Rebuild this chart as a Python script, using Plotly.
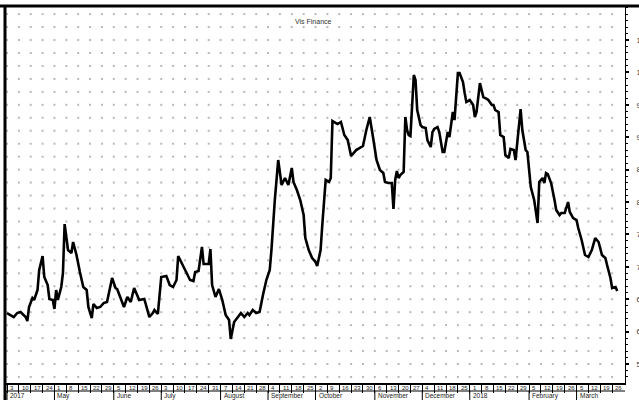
import plotly.graph_objects as go
import pandas as pd

# ---------------- data ----------------
dates = [
    "2017-04-03", "2017-04-07", "2017-04-09", "2017-04-11", "2017-04-14", "2017-04-15", "2017-04-16", "2017-04-18",
    "2017-04-19", "2017-04-21", "2017-04-22", "2017-04-24", "2017-04-25", "2017-04-27", "2017-04-28", "2017-04-30",
    "2017-05-01", "2017-05-02", "2017-05-03", "2017-05-05", "2017-05-06", "2017-05-07", "2017-05-09", "2017-05-11",
    "2017-05-12", "2017-05-14", "2017-05-16", "2017-05-18", "2017-05-20", "2017-05-21", "2017-05-23", "2017-05-24",
    "2017-05-26", "2017-05-28", "2017-05-30", "2017-06-01", "2017-06-04", "2017-06-06", "2017-06-07", "2017-06-11",
    "2017-06-13", "2017-06-15", "2017-06-17", "2017-06-19", "2017-06-20", "2017-06-23", "2017-06-26", "2017-06-28",
    "2017-06-29", "2017-07-01", "2017-07-03", "2017-07-06", "2017-07-08", "2017-07-10", "2017-07-12", "2017-07-13",
    "2017-07-16", "2017-07-18", "2017-07-20", "2017-07-22", "2017-07-23", "2017-07-25", "2017-07-27", "2017-07-28",
    "2017-07-31", "2017-08-01", "2017-08-02", "2017-08-04", "2017-08-06", "2017-08-08", "2017-08-10", "2017-08-12",
    "2017-08-13", "2017-08-15", "2017-08-17", "2017-08-19", "2017-08-21", "2017-08-23", "2017-08-24", "2017-08-26",
    "2017-08-28", "2017-08-30", "2017-09-01", "2017-09-03", "2017-09-05", "2017-09-06", "2017-09-08", "2017-09-10",
    "2017-09-12", "2017-09-14", "2017-09-16", "2017-09-18", "2017-09-19", "2017-09-21", "2017-09-23", "2017-09-25",
    "2017-09-26", "2017-09-28", "2017-09-30", "2017-10-02", "2017-10-03", "2017-10-05", "2017-10-06", "2017-10-08",
    "2017-10-10", "2017-10-11", "2017-10-12", "2017-10-15", "2017-10-17", "2017-10-19", "2017-10-21", "2017-10-23",
    "2017-10-26", "2017-10-28", "2017-10-30", "2017-11-01", "2017-11-03", "2017-11-05", "2017-11-07", "2017-11-09",
    "2017-11-11", "2017-11-12", "2017-11-14", "2017-11-16", "2017-11-17", "2017-11-18", "2017-11-19", "2017-11-20",
    "2017-11-21", "2017-11-23", "2017-11-24", "2017-11-25", "2017-11-26", "2017-11-27", "2017-11-29", "2017-11-30",
    "2017-12-01", "2017-12-03", "2017-12-04", "2017-12-06", "2017-12-07", "2017-12-09", "2017-12-10", "2017-12-11",
    "2017-12-13", "2017-12-14", "2017-12-16", "2017-12-17", "2017-12-19", "2017-12-20", "2017-12-22", "2017-12-23",
    "2017-12-25", "2017-12-26", "2017-12-28", "2017-12-29", "2017-12-30", "2018-01-01", "2018-01-03", "2018-01-04",
    "2018-01-05", "2018-01-07", "2018-01-09", "2018-01-11", "2018-01-12", "2018-01-14", "2018-01-15", "2018-01-16",
    "2018-01-18", "2018-01-19", "2018-01-21", "2018-01-22", "2018-01-24", "2018-01-25", "2018-01-27", "2018-01-28",
    "2018-01-31", "2018-02-01", "2018-02-03", "2018-02-04", "2018-02-06", "2018-02-08", "2018-02-10", "2018-02-11",
    "2018-02-13", "2018-02-14", "2018-02-15", "2018-02-16", "2018-02-18", "2018-02-20", "2018-02-21", "2018-02-23",
    "2018-02-24", "2018-02-26", "2018-02-28", "2018-03-01", "2018-03-03", "2018-03-05", "2018-03-06", "2018-03-08",
    "2018-03-10", "2018-03-12", "2018-03-14", "2018-03-16", "2018-03-18", "2018-03-20", "2018-03-22", "2018-03-23",
    "2018-03-25", "2018-03-26", "2018-03-28", "2018-03-29",
]

values = [
    62.87, 62.25, 62.87, 63.02, 62.25, 61.64, 63.80, 65.19,
    64.88, 66.42, 69.51, 71.67, 68.43, 67.19, 65.03, 64.88,
    63.49, 66.42, 64.88, 66.88, 69.04, 76.60, 72.59, 72.13,
    73.83, 71.82, 69.20, 66.88, 66.42, 63.80, 62.10, 64.26,
    63.64, 63.80, 64.41, 64.57, 68.27, 66.73, 66.57, 63.80,
    65.34, 64.57, 66.73, 65.65, 64.88, 65.03, 62.25, 62.87,
    63.33, 62.72, 68.43, 68.58, 67.19, 66.88, 67.96, 71.67,
    69.97, 68.89, 67.96, 67.81, 69.20, 69.35, 73.06, 70.43,
    70.43, 72.75, 67.19, 65.34, 66.57, 64.88, 62.56, 61.79,
    58.86, 61.48, 62.10, 62.87, 62.25, 62.87, 62.56, 63.33,
    62.87, 63.02, 65.65, 67.96, 69.51, 72.59, 80.31, 86.48,
    82.62, 83.70, 82.62, 85.25, 83.09, 81.85, 80.31, 77.99,
    74.44, 72.59, 71.36, 70.74, 70.12, 72.59, 76.45, 83.40,
    83.09, 83.70, 92.50, 92.04, 92.35, 90.34, 89.57, 87.10,
    88.02, 88.33, 88.64, 91.11, 93.12, 89.88, 86.48, 84.94,
    84.48, 83.09, 82.93, 82.93, 78.92, 83.40, 84.78, 83.70,
    84.17, 84.63, 93.12, 91.11, 90.34, 90.19, 99.60, 98.83,
    94.20, 91.88, 91.57, 91.42, 89.57, 88.49, 90.80, 91.27,
    91.57, 90.80, 87.72, 87.72, 90.80, 90.03, 93.89, 92.65,
    99.91, 99.91, 98.52, 96.82, 95.43, 95.74, 94.97, 93.12,
    93.89, 98.36, 96.20, 95.90, 95.74, 94.97, 94.97, 94.20,
    93.89, 90.34, 90.03, 87.25, 86.79, 88.18, 88.02, 86.48,
    94.35, 91.11, 88.02, 87.72, 82.31, 80.31, 76.76, 83.09,
    83.70, 82.93, 84.48, 84.32, 82.93, 80.31, 78.77, 77.99,
    78.30, 78.30, 80.00, 78.46, 77.53, 77.22, 75.99, 74.14,
    71.82, 71.51, 72.59, 74.44, 73.83, 71.82, 71.36, 70.28,
    68.27, 66.73, 66.88, 66.27,
]

week_starts = pd.date_range("2017-04-03", "2018-03-26", freq="7D")
day_labels = ["3", "10", "17", "24", "1", "8", "15", "22", "29", "5", "12", "19", "26",
              "3", "10", "17", "24", "31", "7", "14", "21", "28", "4", "11", "18", "25",
              "2", "9", "16", "23", "30", "6", "13", "20", "27", "4", "11", "18", "25",
              "1", "8", "15", "22", "29", "5", "12", "19", "26", "5", "12", "19", "26"]

month_dates = ["2017-04-03", "2017-05-01", "2017-06-05", "2017-07-03", "2017-08-07", "2017-09-04",
               "2017-10-02", "2017-11-06", "2017-12-04", "2018-01-01", "2018-02-05", "2018-03-05"]
month_labels = ["2017", "May", "June", "July", "August", "September",
                "October", "November", "December", "2018", "February", "March"]

y_ticks = [55, 60, 65, 70, 75, 80, 85, 90, 95, 100, 105]
grid_rows = list(range(53, 111, 2))

title_text = "Vis Finance"

# ---------------- figure ----------------
FONT = "Liberation Sans Narrow, Liberation Sans, Arial, sans-serif"
W, H = 639, 400
ML, MR, MT, MB = 5, 14, 6, 17
PH = H - MT - MB


def py(px):
    """paper y coordinate for a pixel row (used only for frame decorations)"""
    return (H - MB - px) / PH


fig = go.Figure()

# dotted grid (dots at week / value intersections)
gx = [d for d in week_starts for _ in grid_rows]
gy = [r for _ in week_starts for r in grid_rows]
fig.add_trace(go.Scatter(
    x=gx, y=gy, mode="markers",
    marker=dict(symbol="square", size=2, color="#b8b8b8", line=dict(width=0)),
    hoverinfo="skip", showlegend=False,
))

fig.add_trace(go.Scatter(
    x=dates, y=values, mode="lines",
    line=dict(color="black", width=2.6),
    showlegend=False,
))

annotations = [
    dict(text=title_text, x=0.498, y=py(16), xref="paper", yref="paper",
         showarrow=False, font=dict(family=FONT, size=7, color="#333333"))
]
for d, lbl in zip(week_starts, day_labels):
    annotations.append(dict(text=lbl, x=d, y=py(387.5), xref="x", yref="paper",
                            xanchor="left", yanchor="middle", xshift=1,
                            showarrow=False, font=dict(family=FONT, size=6, color="#222222")))
for d, lbl in zip(month_dates, month_labels):
    annotations.append(dict(text=lbl, x=d, y=py(395.5), xref="x", yref="paper",
                            xanchor="left", yanchor="middle", xshift=1,
                            showarrow=False, font=dict(family=FONT, size=6.5, color="#222222")))

shapes = [
    # top thick border
    dict(type="line", xref="paper", yref="paper", x0=-0.01, x1=1.05, y0=1, y1=1,
         line=dict(color="black", width=3)),
    # left thick border
    dict(type="line", xref="paper", yref="paper", x0=0, x1=0, y0=py(402), y1=1,
         line=dict(color="black", width=3)),
    # line between day row and month row
    dict(type="line", xref="paper", yref="paper", x0=0, x1=1, y0=py(391), y1=py(391),
         line=dict(color="black", width=1)),
]
for d in month_dates:
    shapes.append(dict(type="line", xref="x", yref="paper", x0=d, x1=d,
                       y0=py(391), y1=py(401), line=dict(color="black", width=1)))

fig.update_layout(
    width=W, height=H,
    autosize=False,
    margin=dict(l=ML, r=MR, t=MT, b=MB, pad=0, autoexpand=False),
    paper_bgcolor="white", plot_bgcolor="white",
    showlegend=False,
    font=dict(family=FONT, size=8, color="#222222"),
    annotations=annotations,
    shapes=shapes,
    xaxis=dict(
        type="date",
        range=["2017-04-01 19:40", "2018-04-02 14:00"],
        automargin=False,
        showgrid=False, zeroline=False,
        showline=True, linecolor="black", linewidth=2,
        ticks="outside", ticklen=8, tickwidth=1, tickcolor="black",
        tickmode="array", tickvals=list(week_starts),
        showticklabels=False,
    ),
    yaxis=dict(
        side="right",
        range=[52.07, 110.25],
        automargin=False,
        showgrid=False, zeroline=False,
        showline=True, linecolor="black", linewidth=1,
        ticks="outside", ticklen=3, tickwidth=2, tickcolor="black",
        tickmode="array", tickvals=y_ticks,
        ticktext=[str(v) for v in y_ticks],
        ticklabelstandoff=6,
        tickfont=dict(family=FONT, size=8, color="#333333"),
        minor=dict(tickmode="array", tickvals=list(range(53, 111)),
                   ticks="outside", ticklen=2, tickwidth=1, tickcolor="black",
                   showgrid=False),
    ),
)

fig.write_html(
    "out.html",
    config={"displayModeBar": False},
    post_script="document.body.style.margin='0';document.body.style.overflow='hidden';",
)
